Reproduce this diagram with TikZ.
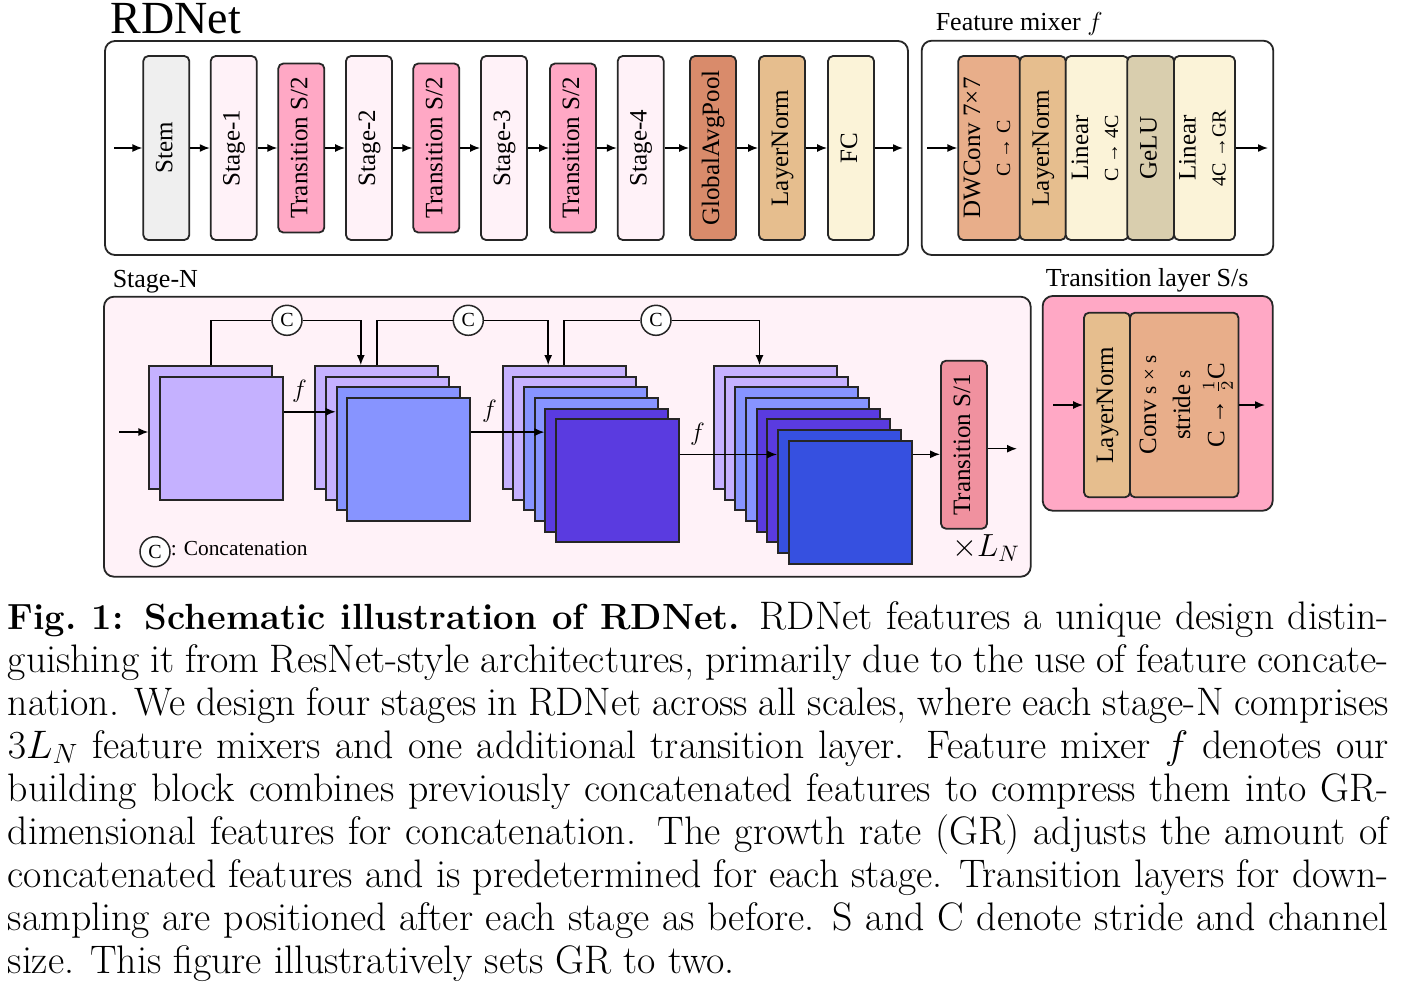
\RequirePackage{fix-cm}
\documentclass[tikz,border=0pt]{standalone}
\usepackage{fontspec}
\newfontfamily\tnr{Liberation Serif}
\usetikzlibrary{positioning,arrows.meta,calc}
\definecolor{edge}{HTML}{262626}
\definecolor{stemgray}{HTML}{EFEFEF}
\definecolor{stgpink}{HTML}{FFF2F8}
\definecolor{trpink}{HTML}{FFA8C5}
\definecolor{trsone}{HTML}{F0919F}
\definecolor{gapbrown}{HTML}{D98B6B}
\definecolor{lntan}{HTML}{E6BE8E}
\definecolor{fccream}{HTML}{FBF3D8}
\definecolor{dwsalmon}{HTML}{E8AE8A}
\definecolor{gelukhaki}{HTML}{D9CEAE}
\definecolor{lav}{HTML}{C5B1FF}
\definecolor{peri}{HTML}{8794FF}
\definecolor{viol}{HTML}{5A3BE0}
\definecolor{roy}{HTML}{3650E0}
\newcommand{\boxfont}{\tnr\fontsize{12.5}{15}\selectfont}
\newcommand{\smfont}{\fontsize{10}{12}\selectfont}
\newcommand{\tinyfont}{\fontsize{10.5}{12}\selectfont}
\newcommand{\vlab}[1]{\rotatebox{90}{\begin{tabular}{@{}c@{}}#1\end{tabular}}}

\begin{document}
\begin{tikzpicture}[x=0.5pt,y=-0.5pt,>={Latex[length=5pt,width=4pt]},line width=0.75pt,
    every node/.style={font=\boxfont},
    frame/.style={draw=edge,line width=0.9pt,rounded corners=5pt},
    blk/.style={draw=edge,line width=0.9pt,rounded corners=2.5pt,minimum width=23pt,minimum height=92pt,inner sep=0pt},
    trblk/.style={blk,minimum height=84.5pt,fill=trpink},
    fmap/.style={draw=edge,line width=0.9pt,minimum size=61.5pt,inner sep=0pt},
    cat/.style={circle,draw=edge,fill=white,minimum size=15pt,inner sep=0pt,font=\tnr\fontsize{10}{12}\selectfont},
    sect/.style={anchor=base west,inner sep=0pt,font=\tnr\fontsize{13}{15}\selectfont}]
  \useasboundingbox (0,0) rectangle (1405,987);
  \fill[white] (0,0) rectangle (1405,987);

  % RDNet overview
  \node[anchor=base west,inner sep=0pt,font=\tnr\fontsize{23}{27}\selectfont] (title) at (110,33) {RDNet};
  \draw[frame,fill=white] (105,41) rectangle (908,255);
  \node[blk,fill=stemgray] (stem) at (166.3,148) {\vlab{Stem}};
  \node[blk,fill=stgpink] (st1) at (233.7,148) {\vlab{Stage-1}};
  \node[trblk] (tr1) at (301.3,148) {\vlab{Transition S/2}};
  \node[blk,fill=stgpink] (st2) at (369,148) {\vlab{Stage-2}};
  \node[trblk] (tr2) at (436.3,148) {\vlab{Transition S/2}};
  \node[blk,fill=stgpink] (st3) at (504,148) {\vlab{Stage-3}};
  \node[trblk] (tr3) at (573,148) {\vlab{Transition S/2}};
  \node[blk,fill=stgpink] (st4) at (640.7,148) {\vlab{Stage-4}};
  \node[blk,fill=gapbrown] (gap) at (713,148) {\vlab{GlobalAvgPool}};
  \node[blk,fill=lntan] (ln) at (782,148) {\vlab{LayerNorm}};
  \node[blk,fill=fccream] (fc) at (851,148) {\vlab{FC}};
  \coordinate (rin) at (114,148);
  \coordinate (rout) at (903,148);
  \draw[->] (rin) -- (stem);
  \foreach \a/\b in {stem/st1,st1/tr1,tr1/st2,st2/tr2,tr2/st3,st3/tr3,tr3/st4,st4/gap,gap/ln,ln/fc}
    \draw[->] (\a) -- (\b);
  \draw[->] (fc) -- (rout);

  % feature mixer
  \node[sect] (mixlab) at (935,30) {Feature mixer $f$};
  \draw[frame,fill=white] (921.7,40.7) rectangle (1273.3,255);
  \node[blk,fill=dwsalmon,minimum width=30.9pt] (dw) at (989.2,148) {\vlab{DWConv 7×7\\{\smfont C → C}}};
  \node[blk,fill=lntan] (mln) at (1042.8,148) {\vlab{LayerNorm}};
  \node[blk,fill=fccream,minimum width=31.3pt] (lin1) at (1097,148) {\vlab{Linear\\{\smfont C → 4C}}};
  \node[blk,fill=gelukhaki,minimum width=23.4pt] (gelu) at (1150.7,148) {\vlab{GeLU}};
  \node[blk,fill=fccream,minimum width=30.5pt] (lin2) at (1204.5,148) {\vlab{Linear\\{\smfont 4C →GR}}};
  \coordinate (min) at (927,148);
  \coordinate (mout) at (1268,148);
  \draw[->] (min) -- (dw);
  \draw[->] (lin2) -- (mout);

  % transition layer
  \node[sect] (trlab) at (1045,286) {Transition layer S/s};
  \draw[frame,fill=trpink] (1042.7,296) rectangle (1272.7,510.7);
  \node[blk,fill=lntan,minimum height=92.3pt] (tln) at (1107,405) {\vlab{LayerNorm}};
  \node[blk,fill=dwsalmon,minimum width=54.2pt,minimum height=92.3pt] (tconv) at (1184.2,405)
    {\vlab{Conv {\tinyfont s × s}\\[2pt]stride {\tinyfont s}\\[2pt]C → $\frac{1}{2}$C}};
  \coordinate (tlin) at (1053,405);
  \coordinate (tlout) at (1265,405);
  \draw[->] (tlin) -- (tln);
  \draw[->] (tconv) -- (tlout);

  % stage-N
  \node[sect] (stlab) at (112,287) {Stage-N};
  \draw[frame,fill=stgpink] (104,296.7) rectangle (1030.7,576.7);
  \foreach \i/\c in {0/lav,1/lav}
    \node[fmap,fill=\c] (m1\i) at (210.8+\i*10.67,427.5+\i*10.67) {};
  \foreach \i/\c in {0/lav,1/lav,2/peri,3/peri}
    \node[fmap,fill=\c] (m2\i) at (376.8+\i*10.67,427.5+\i*10.67) {};
  \foreach \i/\c in {0/lav,1/lav,2/peri,3/peri,4/viol,5/viol}
    \node[fmap,fill=\c] (m3\i) at (564.2+\i*10.67,427.5+\i*10.67) {};
  \foreach \i/\c in {0/lav,1/lav,2/peri,3/peri,4/viol,5/viol,6/roy,7/roy}
    \node[fmap,fill=\c] (m4\i) at (775.5+\i*10.67,427.5+\i*10.67) {};
  \node[blk,fill=trsone,minimum height=84pt] (trs) at (964,444.7) {\vlab{Transition S/1}};

  \node[cat] (c1) at (287,320.3) {C};
  \node[cat] (c2) at (468.3,320.3) {C};
  \node[cat] (c3) at (656,320.3) {C};
  \draw (m10.north) |- (c1);
  \draw[->] (c1) -| ([xshift=-8pt]m20.north);
  \draw (m20.north) |- (c2);
  \draw[->] (c2) -| ([xshift=-8pt]m30.north);
  \draw (m30.north) |- (c3);
  \draw[->] (c3) -| ([xshift=-8pt]m40.north);

  \coordinate (sin) at (119,432);
  \draw[->] (sin) -- (sin -| m10.west);
  \coordinate (f1s) at ([yshift=-18pt]m11.north east);
  \draw[->] (f1s) -- (f1s -| m22.west) node[pos=0.3,above=1pt] {$f$};
  \coordinate (f2s) at ([yshift=-17.5pt]m23.north east);
  \draw[->] (f2s) -- (f2s -| m34.west) node[pos=0.25,above=1pt] {$f$};
  \coordinate (f3s) at ([yshift=-18pt]m35.north east);
  \draw[->] (f3s) -- (f3s -| m46.west) node[pos=0.18,above=1pt] {$f$};
  \coordinate (tin) at ([yshift=-4.8pt]trs.west);
  \draw[->] (m47.east |- tin) -- (tin);
  \coordinate (sout) at (1017,448.7);
  \draw[->] (trs.east |- sout) -- (sout);

  \node[cat] (leg) at (155,551.7) {C};
  \node[anchor=base west,inner sep=0pt,font=\tnr\fontsize{10.7}{13}\selectfont] (legtxt) at (170,555) {: Concatenation};
  \node[font=\rmfamily\fontsize{16}{19}\selectfont] (reps) at (986,548) {$\times L_N$};

  % caption
  \node[anchor=base west,inner sep=0pt,text width=690.5pt,align=justify,
        font=\rmfamily\fontsize{19.9}{21.5}\selectfont] (cap) at (7,629)
    {\hyphenpenalty=10000\exhyphenpenalty=10000\tolerance=10000\noindent
     {\fontsize{18.2}{21.5}\selectfont\bfseries Fig.~1: Schematic illustration of RDNet.} RDNet features a unique design distin-\linebreak
     guishing it from ResNet-style architectures, primarily due to the use of feature concate-\linebreak
     nation. We design four stages in RDNet across all scales, where each stage-N comprises\linebreak
     $3L_N$ feature mixers and one additional transition layer. Feature mixer $f$ denotes our\linebreak
     building block combines previously concatenated features to compress them into GR-\linebreak
     dimensional features for concatenation. The growth rate (GR) adjusts the amount of\linebreak
     concatenated features and is predetermined for each stage. Transition layers for down-\linebreak
     sampling are positioned after each stage as before. S and C denote stride and channel\linebreak
     size. This figure illustratively sets GR to two.};
\end{tikzpicture}
\end{document}
